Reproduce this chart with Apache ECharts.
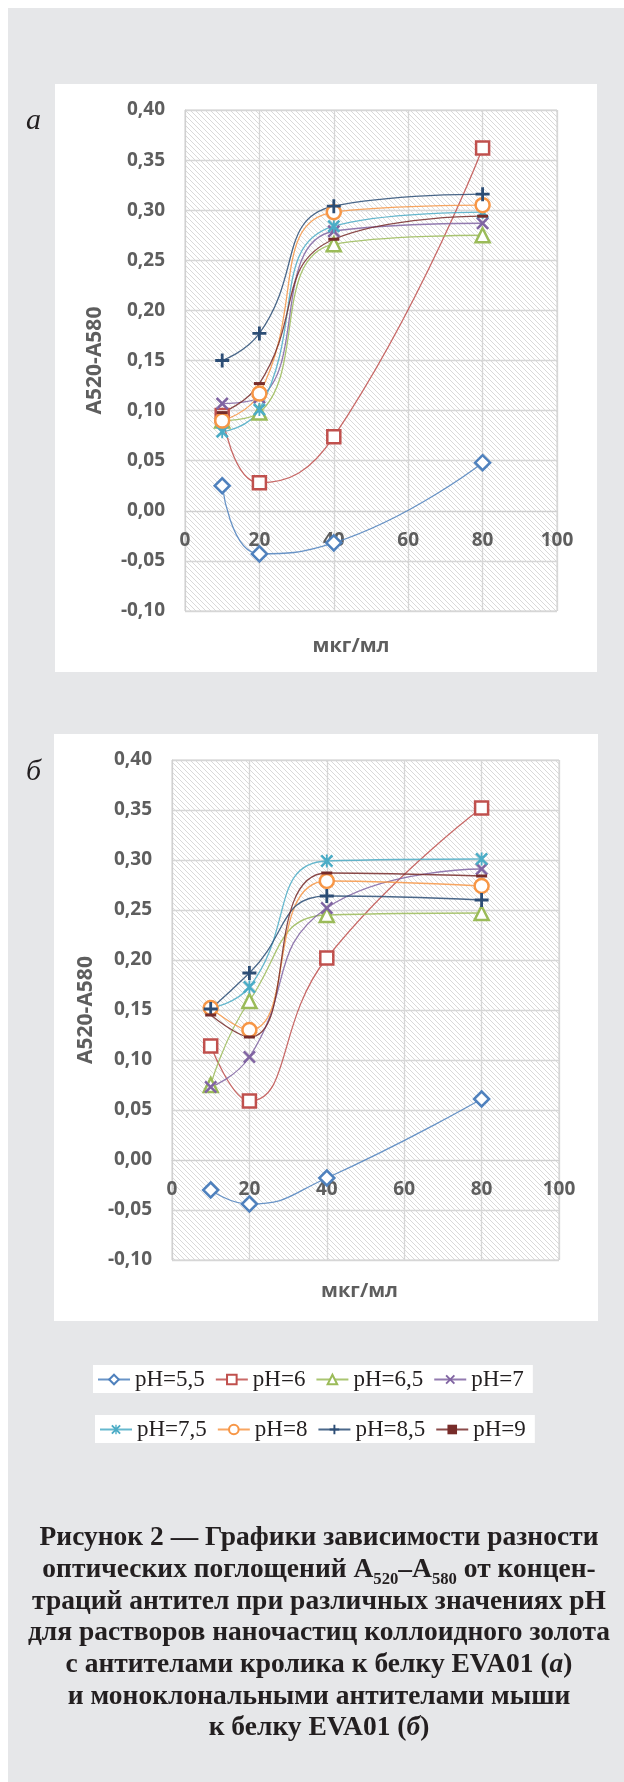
<!DOCTYPE html>
<html><head><meta charset="utf-8">
<script src="https://cdn.jsdelivr.net/npm/echarts@6/dist/echarts.min.js"></script>
<style>html,body{margin:0;padding:0;background:#fff}#c{width:624px;height:1782px}</style>
</head><body><div id="c"></div>
<script>
// ---------- data ----------
const concentrations = [10, 20, 40, 80];
const seriesNames = ['pH=5,5', 'pH=6', 'pH=6,5', 'pH=7', 'pH=7,5', 'pH=8', 'pH=8,5', 'pH=9'];
// chart а (rabbit antibodies)
const a_pH55 = [0.025, -0.043, -0.032, 0.048];
const a_pH6  = [0.095, 0.028, 0.074, 0.362];
const a_pH65 = [0.090, 0.098, 0.266, 0.275];
const a_pH7  = [0.107, 0.113, 0.279, 0.287];
const a_pH75 = [0.079, 0.101, 0.284, 0.298];
const a_pH8  = [0.090, 0.117, 0.298, 0.305];
const a_pH85 = [0.150, 0.177, 0.304, 0.316];
const a_pH9  = [0.098, 0.127, 0.271, 0.294];
// chart б (mouse monoclonal antibodies)
const b_pH55 = [-0.030, -0.044, -0.018, 0.061];
const b_pH6  = [0.114, 0.059, 0.202, 0.352];
const b_pH65 = [0.075, 0.159, 0.245, 0.247];
const b_pH7  = [0.073, 0.103, 0.252, 0.291];
const b_pH75 = [0.152, 0.173, 0.299, 0.301];
const b_pH8  = [0.152, 0.130, 0.279, 0.274];
const b_pH85 = [0.151, 0.187, 0.264, 0.260];
const b_pH9  = [0.145, 0.123, 0.287, 0.284];
const xRange = [0, 100];
const yRange = [-0.1, 0.4];
const xAxisName = 'мкг/мл';
const yAxisName = 'A520-A580';
const captionLines = [
  'Рисунок 2 — Графики зависимости разности',
  ['оптических поглощений А', '520', '–А', '580', ' от концен-'],
  'траций антител при различных значениях pH',
  'для растворов наночастиц коллоидного золота',
  ['с антителами кролика к белку EVA01 (', 'а', ')'],
  'и моноклональными антителами мыши',
  ['к белку EVA01 (', 'б', ')']
];

// ---------- styles ----------
const colors = ['#4F81BD', '#C0504D', '#9BBB59', '#8064A2', '#4BACC6', '#F79646', '#2C4D75', '#772C2A'];
const SYM_X = 'path://M0,1.4L1.4,0L5,3.6L8.6,0L10,1.4L6.4,5L10,8.6L8.6,10L5,6.4L1.4,10L0,8.6L3.6,5Z';
const SYM_STAR = 'path://M0,1.4L1.4,0L5,3.6L8.6,0L10,1.4L6.4,5L10,8.6L8.6,10L5,6.4L1.4,10L0,8.6L3.6,5Z M4.3,0L5.7,0L5.7,10L4.3,10Z';
const SYM_PLUS = 'path://M4,0L6,0L6,4L10,4L10,6L6,6L6,10L4,10L4,6L0,6L0,4L4,4Z';
const SYM_DASH = 'path://M0,0L10,0L10,5L0,5Z';
const symbols = [
  {s: 'diamond', hollow: true, size: 15},
  {s: 'rect', hollow: true, size: 13},
  {s: 'triangle', hollow: true, size: 14},
  {s: SYM_X, hollow: false, size: 13},
  {s: SYM_STAR, hollow: false, size: 13},
  {s: 'circle', hollow: true, size: 14},
  {s: SYM_PLUS, hollow: false, size: 14},
  {s: SYM_DASH, hollow: false, size: [11, 6]}
];

function hatch() {
  const c = document.createElement('canvas');
  c.width = 5; c.height = 5;
  const g = c.getContext('2d');
  g.fillStyle = '#ffffff'; g.fillRect(0, 0, 5, 5);
  g.strokeStyle = '#d9d9d9'; g.lineWidth = 1;
  for (let k = -5; k <= 5; k += 5) {
    g.beginPath(); g.moveTo(k - 1, -1); g.lineTo(k + 6, 6); g.stroke();
  }
  return {image: c, repeat: 'repeat'};
}
const pattern = hatch();

const labelFont = {fontFamily: 'Open Sans', fontWeight: 'bold', color: '#5e5e5e'};

function makeSeries(arrs, gi) {
  return arrs.map((vals, i) => {
    const sym = symbols[i];
    return {
      name: seriesNames[i], type: 'line', xAxisIndex: gi, yAxisIndex: gi,
      data: concentrations.map((x, j) => [x, vals[j]]),
      smooth: true,
      symbol: sym.s, symbolSize: sym.size, symbolKeepAspect: true,
      lineStyle: {color: colors[i], width: 1.3, opacity: 0.85},
      itemStyle: sym.hollow ? {color: '#fff', borderColor: colors[i], borderWidth: 2.5}
                            : {color: colors[i], borderWidth: 0},
      emphasis: {disabled: true},
      animation: false
    };
  });
}

// the x axis crosses the y axis at zero (Excel style)
function xAxis(gi, gridHeight, gap, padRight) {
  const zeroOffset = -gridHeight * (0 - yRange[0]) / (yRange[1] - yRange[0]);
  return {
    gridIndex: gi, type: 'value', min: xRange[0], max: xRange[1], interval: 20,
    position: 'bottom', offset: zeroOffset, z: 1,
    axisLine: {show: true, onZero: false, lineStyle: {color: '#d0d0d0', width: 1}},
    axisTick: {show: false},
    splitLine: {lineStyle: {color: '#d6d6d6', width: 1.3}},
    axisLabel: Object.assign({fontSize: 19, margin: 20}, labelFont),
    name: xAxisName, nameLocation: 'middle', nameGap: gap,
    nameTextStyle: Object.assign({fontSize: 20, padding: [0, padRight, 0, 0]}, labelFont)
  };
}
function yAxis(gi, gap) {
  return {
    gridIndex: gi, type: 'value', min: yRange[0], max: yRange[1], interval: 0.05, z: 1,
    axisLine: {show: true, onZero: false, lineStyle: {color: '#d0d0d0', width: 1}}, axisTick: {show: false},
    splitLine: {lineStyle: {color: '#d6d6d6', width: 1.3}},
    axisLabel: Object.assign({fontSize: 19, margin: 20,
      formatter: v => v.toFixed(2).replace('.', ',')}, labelFont),
    name: yAxisName, nameLocation: 'middle', nameRotate: 90, nameGap: gap,
    nameTextStyle: Object.assign({fontSize: 21}, labelFont)
  };
}

// caption scale fitting
const capFont = 'bold 28px "Liberation Serif"';
const mctx = document.createElement('canvas').getContext('2d');
mctx.font = capFont;
const capScale = 559 / mctx.measureText(captionLines[0]).width;

function captionEl(line, idx) {
  const y = 1538 + idx * 31.7;
  const base = {fontFamily: 'Liberation Serif', fontWeight: 'bold', fontSize: 28, fill: '#231f20'};
  if (typeof line === 'string') {
    return {type: 'text', x: 0, y: y, style: Object.assign({text: line, align: 'center', verticalAlign: 'middle'}, base)};
  }
  let text, rich;
  if (line.length === 5) {
    text = '{n|' + line[0] + '}{s|' + line[1] + '}{n|' + line[2] + '}{s|' + line[3] + '}{n|' + line[4] + '}';
    rich = {
      n: {fontFamily: 'Liberation Serif', fontWeight: 'bold', fontSize: 28, lineHeight: 36, verticalAlign: 'middle', fill: '#231f20'},
      s: {fontFamily: 'Liberation Serif', fontWeight: 'bold', fontSize: 17, lineHeight: 36, verticalAlign: 'bottom', fill: '#231f20'}
    };
  } else {
    text = '{n|' + line[0] + '}{i|' + line[1] + '}{n|' + line[2] + '}';
    rich = {
      n: {fontFamily: 'Liberation Serif', fontWeight: 'bold', fontSize: 28, fill: '#231f20'},
      i: {fontFamily: 'Liberation Serif', fontWeight: 'bold', fontStyle: 'italic', fontSize: 28, fill: '#231f20'}
    };
  }
  return {type: 'text', x: 0, y: y, style: Object.assign({text: text, rich: rich, align: 'center', verticalAlign: 'middle'}, base)};
}

const legendCommon = {
  orient: 'horizontal', itemWidth: 32, itemHeight: 12, itemGap: 10,
  padding: [3, 9, 2, 4], backgroundColor: '#ffffff',
  textStyle: {fontFamily: 'Liberation Serif', fontSize: 23, color: '#231f20'},
  selectedMode: false
};

const chart = echarts.init(document.getElementById('c'), null, {renderer: 'canvas'});
chart.setOption({
  animation: false,
  backgroundColor: '#ffffff',
  graphic: [
    {type: 'rect', z: -10, shape: {x: 8, y: 8, width: 616, height: 1774}, style: {fill: '#e6e7e9'}},
    {type: 'rect', z: -9, shape: {x: 55, y: 84, width: 542, height: 588}, style: {fill: '#ffffff'}},
    {type: 'rect', z: -9, shape: {x: 54, y: 734, width: 544, height: 587}, style: {fill: '#ffffff'}},
    {type: 'text', x: 26, y: 106, style: {text: 'а', fontFamily: 'Liberation Serif', fontStyle: 'italic', fontSize: 30, fill: '#231f20', align: 'left', verticalAlign: 'alphabetic'}},
    {type: 'text', x: 26, y: 757, style: {text: 'б', fontFamily: 'Liberation Serif', fontStyle: 'italic', fontSize: 30, fill: '#231f20', align: 'left', verticalAlign: 'alphabetic'}},
    {type: 'group', x: 319, y: 0, scaleX: capScale, children: captionLines.map(captionEl)}
  ],
  legend: [
    Object.assign({data: seriesNames.slice(0, 4), left: 93, top: 1365}, legendCommon),
    Object.assign({data: seriesNames.slice(4), left: 95, top: 1415}, legendCommon)
  ],
  grid: [
    {left: 185, top: 110, width: 372, height: 501, show: true, backgroundColor: pattern, borderColor: '#d0d0d0', borderWidth: 1, z: 0},
    {left: 172, top: 760, width: 387, height: 500, show: true, backgroundColor: pattern, borderColor: '#d0d0d0', borderWidth: 1, z: 0}
  ],
  xAxis: [xAxis(0, 501, 125, 40), xAxis(1, 500, 121, 12)],
  yAxis: [yAxis(0, 79), yAxis(1, 73)],
  series: makeSeries([a_pH55, a_pH6, a_pH65, a_pH7, a_pH75, a_pH8, a_pH85, a_pH9], 0)
    .concat(makeSeries([b_pH55, b_pH6, b_pH65, b_pH7, b_pH75, b_pH8, b_pH85, b_pH9], 1))
});
</script>
</body></html>
